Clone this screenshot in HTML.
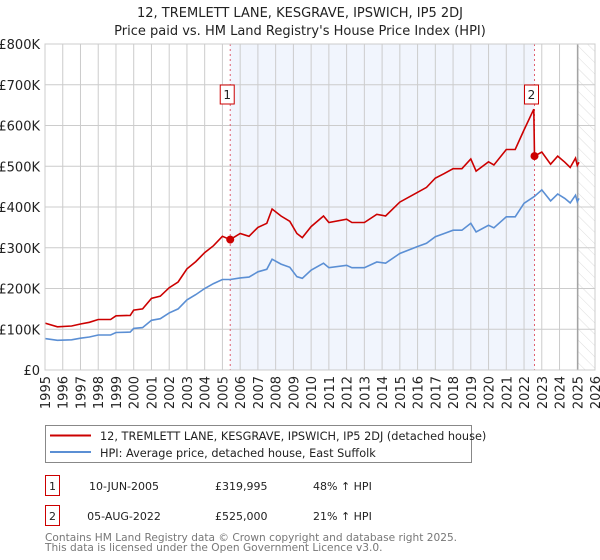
<!DOCTYPE html>
<html><head><meta charset="utf-8"><style>
body{margin:0;background:#fff;font-family:"Liberation Sans","DejaVu Sans",sans-serif;}
#wrap{position:relative;width:600px;height:560px;overflow:hidden}
svg text{font-family:"DejaVu Sans","Liberation Sans",sans-serif}
</style></head><body><div id="wrap">
<svg id="chart" width="600" height="560"></svg>
</div>
<script>
const hpiYears=[1995.0,1995.7,1996.5,1997.0,1997.5,1998.0,1998.7,1999.0,1999.8,2000.0,2000.5,2001.0,2001.5,2002.0,2002.5,2003.0,2003.5,2004.0,2004.5,2005.0,2005.44,2006.0,2006.5,2007.0,2007.5,2007.8,2008.3,2008.8,2009.2,2009.5,2010.0,2010.7,2011.0,2012.0,2012.3,2013.0,2013.7,2014.2,2015.0,2016.0,2016.5,2017.0,2017.5,2018.0,2018.5,2019.0,2019.3,2020.0,2020.3,2021.0,2021.5,2022.0,2022.55,2022.59,2023.0,2023.5,2023.9,2024.3,2024.6,2024.9,2025.0,2025.1];
const hpiValues=[77,73,74,78,81,86,86,92,93,102,104,122,126,140,150,172,185,200,212,222,222,226,228,241,247,272,260,252,229,225,245,262,251,257,251,251,265,262,286,303,311,327,335,343,343,360,339,355,349,376,376,409,425,426,442,415,432,421,410,429,413,421];
const priceValues=[115,106,108,113,117,124,124,133,134,147,150,176,181,202,216,248,266,288,305,328,320,335,328,350,360,395,378,365,335,325,352,378,362,370,362,362,382,378,412,436,448,471,482,494,494,518,488,511,503,541,541,589,640,525,535,505,525,510,497,520,502,510];
const yTicks=[0,100,200,300,400,500,600,700,800];
const yTickLabels=["£0","£100K","£200K","£300K","£400K","£500K","£600K","£700K","£800K"];
const xTicks=[1995,1996,1997,1998,1999,2000,2001,2002,2003,2004,2005,2006,2007,2008,2009,2010,2011,2012,2013,2014,2015,2016,2017,2018,2019,2020,2021,2022,2023,2024,2025,2026];
const saleYears=[2005.44,2022.59];
const saleValues=[319.995,525];
const saleLabels=["1","2"];
const dataEndYear=2025.03;

const L=45,R=595,T=44,B=370,X0=1995,X1=2026,YMAX=800;
const xs=v=>L+(v-X0)/(X1-X0)*(R-L);
const ys=v=>B-v/YMAX*(B-T);
const svg=document.getElementById('chart');
const NS='http://www.w3.org/2000/svg';
function mk(tag,attrs,parent){const e=document.createElementNS(NS,tag);for(const k in attrs)e.setAttribute(k,attrs[k]);(parent||svg).appendChild(e);return e;}

let t=mk('text',{x:300,y:17,'text-anchor':'middle','font-size':13,fill:'#222'});t.textContent='12, TREMLETT LANE, KESGRAVE, IPSWICH, IP5 2DJ';


t=mk('text',{x:300,y:35,'text-anchor':'middle','font-size':13,fill:'#222'});t.textContent="Price paid vs. HM Land Registry's House Price Index (HPI)";



const defs=mk('defs',{});
const pat=mk('pattern',{id:'hatch',width:8,height:8,patternUnits:'userSpaceOnUse',patternTransform:'rotate(-45)'},defs);
mk('line',{x1:0,y1:0,x2:0,y2:8,stroke:'#d4d4d4','stroke-width':0.8},pat);

let r=mk('rect',{x:xs(saleYears[0]),y:T,width:xs(saleYears[1])-xs(saleYears[0]),height:B-T,fill:'#eef3fc',opacity:0.8});


r=mk('rect',{x:xs(dataEndYear),y:T,width:R-xs(dataEndYear),height:B-T,fill:'url(#hatch)'});



yTicks.forEach((v,i)=>{
 const l=mk('line',{x1:L,x2:R,y1:ys(v),y2:ys(v),stroke:'#cccccc','stroke-width':1});
 
 
 const tx=mk('text',{x:40,y:ys(v)+5,'text-anchor':'end','font-size':13,fill:'#222'});tx.textContent=yTickLabels[i];
 
 
});
xTicks.forEach(v=>{
 const l=mk('line',{x1:xs(v),x2:xs(v),y1:T,y2:B,stroke:'#cccccc','stroke-width':1});
 
 
 const tx=mk('text',{x:0,y:0,'text-anchor':'end','font-size':13,fill:'#222',transform:`translate(${xs(v)+5},376) rotate(-90)`});tx.textContent=v;
 
 
});
let vl=mk('line',{x1:xs(dataEndYear),x2:xs(dataEndYear),y1:T,y2:B,stroke:'#999','stroke-width':1.2});



saleYears.forEach(v=>{
 const l=mk('line',{x1:xs(v),x2:xs(v),y1:T,y2:B,stroke:'#e06070','stroke-width':1,'stroke-dasharray':'2,3'});
 
 
});

function path(xv,yv){return xv.map((x,i)=>(i?'L':'M')+xs(x).toFixed(1)+','+ys(yv[i]).toFixed(1)).join('');}
let p=mk('path',{d:path(hpiYears,hpiValues),fill:'none',stroke:'#5b8fd4','stroke-width':1.6});


p=mk('path',{d:path(hpiYears,priceValues),fill:'none',stroke:'#cc0000','stroke-width':1.6});



saleYears.forEach((v,i)=>{
 const c=mk('circle',{cx:xs(v),cy:ys(saleValues[i]),r:4,fill:'#cc0000'});
 
 
 const g=mk('g',{});
 
 
 mk('rect',{x:xs(v)-10,y:85,width:14,height:19,fill:'#fff',stroke:'#cc0000','stroke-width':1},g);
 const tx=mk('text',{x:xs(v)-3,y:99,'text-anchor':'middle','font-size':12,fill:'#222'},g);tx.textContent=saleLabels[i];
});

let fr=mk('rect',{x:L,y:T,width:R-L,height:B-T,fill:'none',stroke:'#cccccc'});



const lg=mk('g',{});


mk('rect',{x:45.5,y:425.5,width:426,height:37,fill:'#fff',stroke:'#888'},lg);
mk('line',{x1:50,x2:91,y1:435.5,y2:435.5,stroke:'#cc0000','stroke-width':2},lg);
let lt=mk('text',{x:100,y:440,'font-size':11.3,fill:'#222'},lg);lt.textContent='12, TREMLETT LANE, KESGRAVE, IPSWICH, IP5 2DJ (detached house)';


mk('line',{x1:50,x2:91,y1:452,y2:452,stroke:'#5b8fd4','stroke-width':2},lg);
lt=mk('text',{x:100,y:457,'font-size':11.3,fill:'#222'},lg);lt.textContent='HPI: Average price, detached house, East Suffolk';



const rows=[["1","10-JUN-2005","£319,995","48% ↑ HPI"],["2","05-AUG-2022","£525,000","21% ↑ HPI"]];
rows.forEach((rw,i)=>{
 const y=475+i*30;
 const g=mk('g',{});
 
 
 mk('rect',{x:45.5,y:y+0.5,width:14,height:20,fill:'#fff',stroke:'#cc0000'},g);
 let a=mk('text',{x:52.5,y:y+15,'text-anchor':'middle','font-size':11,fill:'#222'},g);a.textContent=rw[0];
 a=mk('text',{x:124,y:y+15,'text-anchor':'middle','font-size':11,fill:'#222'},g);a.textContent=rw[1];
 a=mk('text',{x:215,y:y+15,'font-size':11,fill:'#222'},g);a.textContent=rw[2];
 a=mk('text',{x:313,y:y+15,'font-size':11,fill:'#222'},g);a.textContent=rw[3];
});
let f=mk('text',{x:45,y:541,'font-size':10.6,fill:'#777'});f.textContent='Contains HM Land Registry data © Crown copyright and database right 2025.';


f=mk('text',{x:45,y:551,'font-size':10.6,fill:'#777'});f.textContent='This data is licensed under the Open Government Licence v3.0.';


</script></body></html>
